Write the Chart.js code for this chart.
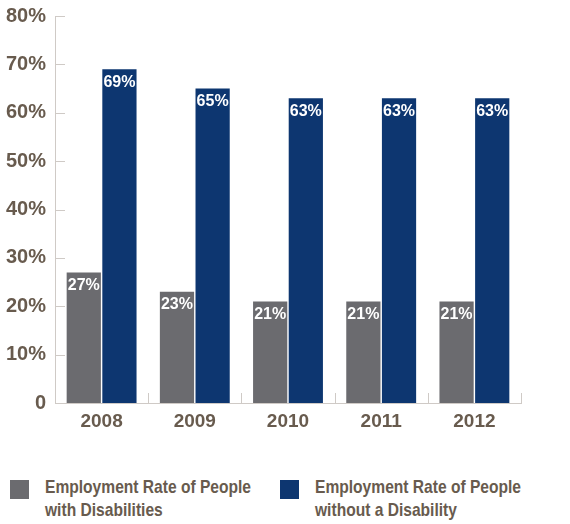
<!DOCTYPE html>
<html>
<head>
<meta charset="utf-8">
<script src="https://cdn.jsdelivr.net/npm/chart.js@4"></script>
<style>
  body { margin: 0; background: #fff; width: 570px; height: 524px; overflow: hidden; }
  #wrap { position: relative; width: 570px; height: 445px; }
  .legend { position: absolute; top: 475px; font-family: "Liberation Sans", Arial, sans-serif;
    font-weight: bold; font-size: 19px; line-height: 23px; color: #685b4e; }
  .legend .box { position: absolute; left: 0; top: 5px; width: 19px; height: 19px; }
  .legend .txt { position: absolute; left: 35px; top: 0; white-space: nowrap; transform: scaleX(0.82); transform-origin: left top; }
</style>
</head>
<body>
<div id="wrap"><canvas id="grafico" width="570" height="445"></canvas></div>
<div class="legend" style="left:10px"><div class="box" style="background:#6b6b6f"></div><div class="txt">Employment Rate of People<br>with Disabilities</div></div>
<div class="legend" style="left:280px"><div class="box" style="background:#0d3670"></div><div class="txt">Employment Rate of People<br>without a Disability</div></div>
<script>
// Datos
const anios = ["2008", "2009", "2010", "2011", "2012"];
const conDiscapacidad = [27, 23, 21, 21, 21];
const sinDiscapacidad = [69, 65, 63, 63, 63];
const ticksY = [0, 10, 20, 30, 40, 50, 60, 70, 80];

const fuente = '"Liberation Sans", Arial, sans-serif';
const marron = '#685b4e';
const gris = '#cfcac6';

// etiquetas blancas dentro de las barras
const etiquetas = {
  id: 'etiquetas',
  afterDatasetsDraw(chart) {
    const ctx = chart.ctx;
    ctx.save();
    ctx.fillStyle = '#fff';
    ctx.font = 'bold 16px ' + fuente;
    ctx.textAlign = 'center';
    ctx.textBaseline = 'top';
    chart.data.datasets.forEach((ds, i) => {
      chart.getDatasetMeta(i).data.forEach((bar, j) => {
        ctx.fillText(ds.data[j] + '%', bar.x, bar.y + 5);
      });
    });
    ctx.restore();
  }
};

// marcas cortas hacia adentro
const marcas = {
  id: 'marcas',
  afterDraw(chart) {
    const ctx = chart.ctx;
    const a = chart.chartArea;
    const y = chart.scales.y;
    ctx.save();
    ctx.strokeStyle = gris;
    ctx.lineWidth = 1;
    ctx.beginPath();
    ticksY.forEach(v => {
      const py = Math.round(y.getPixelForValue(v)) + 0.5;
      ctx.moveTo(a.left, py); ctx.lineTo(a.left + 10, py);
    });
    const paso = (a.right - a.left) / anios.length;
    for (let i = 1; i <= anios.length; i++) {
      const px = Math.round(a.left + paso * i) + 0.5;
      ctx.moveTo(px, a.bottom); ctx.lineTo(px, a.bottom - 10);
    }
    ctx.stroke();
    ctx.restore();
  }
};

new Chart(document.getElementById('grafico'), {
  type: 'bar',
  data: {
    labels: anios,
    datasets: [
      { label: 'Employment Rate of People with Disabilities', data: conDiscapacidad, backgroundColor: '#6b6b6f' },
      { label: 'Employment Rate of People without a Disability', data: sinDiscapacidad, backgroundColor: '#0d3670' }
    ]
  },
  options: {
    responsive: false,
    animation: false,
    layout: { padding: { top: 16, right: 49 } },
    categoryPercentage: 0.765,
    barPercentage: 0.96,
    plugins: { legend: { display: false }, tooltip: { enabled: false } },
    scales: {
      x: {
        grid: { display: false, drawTicks: false },
        border: { color: gris },
        ticks: { color: marron, font: { family: fuente, weight: 'bold', size: 19 }, padding: 7 },
        afterFit: s => { s.height = 42; }
      },
      y: {
        min: 0, max: 80,
        grid: { display: false, drawTicks: false },
        border: { color: gris },
        afterBuildTicks: s => { s.ticks = ticksY.map(v => ({ value: v })); },
        ticks: {
          color: marron, padding: 9,
          font: { family: fuente, weight: 'bold', size: 20 },
          callback: v => v === 0 ? '0' : v + '%'
        },
        afterFit: s => { s.width = 55; s.paddingTop = 0; s.paddingBottom = 0; }
      }
    }
  },
  plugins: [etiquetas, marcas]
});
</script>
</body>
</html>
